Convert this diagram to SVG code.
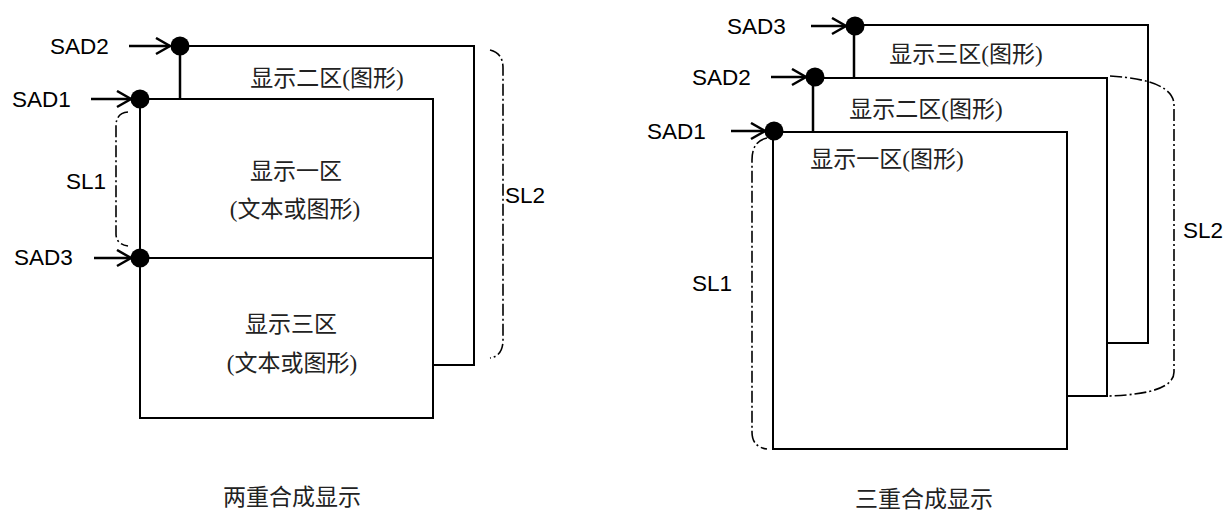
<svg xmlns="http://www.w3.org/2000/svg" width="1226" height="512" viewBox="0 0 1226 512">
<defs>
<style>
.ln{fill:none;stroke:#000;stroke-width:2}
.stub{fill:none;stroke:#000;stroke-width:2.5}
.arr{fill:none;stroke:#000;stroke-width:2.5}
.dd{fill:none;stroke:#000;stroke-width:1.6;stroke-dasharray:12 3 2 3}
.dot{fill:#000}
.lab{font-family:"Liberation Sans",Arial,sans-serif;font-size:22.5px;fill:#000}
.cn{font-family:"Liberation Serif","Noto Sans CJK SC",serif;font-size:23px;fill:#222;text-anchor:middle}
</style>
<marker id="ah" markerUnits="userSpaceOnUse" markerWidth="20" markerHeight="20" refX="15" refY="9" orient="auto">
<path d="M1,1 L15,9 L1,17" fill="none" stroke="#000" stroke-width="2.5"/>
</marker>
</defs>
<rect width="1226" height="512" fill="#fff"/>

<g id="left-diagram">
<g id="L-zone2">
<path class="ln" d="M180,46 H474 V365 H433"/>
<path class="stub" d="M180,46 V99"/>
<text class="cn" x="327" y="86">显示二区(图形)</text>
</g>
<g id="L-zone1">
<rect class="ln" x="140" y="99" width="293" height="319"/>
<text class="cn" x="296" y="179">显示一区</text>
<text class="cn" x="295" y="217">(文本或图形)</text>
</g>
<g id="L-zone3">
<path class="ln" d="M140,258 H433"/>
<text class="cn" x="291" y="332">显示三区</text>
<text class="cn" x="292" y="371">(文本或图形)</text>
</g>
<g id="L-dots">
<circle class="dot" cx="180" cy="46" r="9.5"/>
<circle class="dot" cx="140" cy="99" r="9.5"/>
<circle class="dot" cx="140" cy="258" r="9.5"/>
</g>
<g id="L-labels">
<text class="lab" x="50" y="54">SAD2</text>
<text class="lab" x="12" y="107">SAD1</text>
<text class="lab" x="14" y="265">SAD3</text>
<text class="lab" x="66" y="189">SL1</text>
<text class="lab" x="505" y="203">SL2</text>
</g>
</g>

<g id="right-diagram">
<g id="R-zone3">
<path class="ln" d="M855,25 H1148 V343 H1107"/>
<path class="stub" d="M854,25 V78"/>
<text class="cn" x="966" y="62">显示三区(图形)</text>
</g>
<g id="R-zone2">
<path class="ln" d="M815,78 H1107 V396 H1067"/>
<path class="stub" d="M813,78 V132"/>
<text class="cn" x="926" y="117">显示二区(图形)</text>
</g>
<g id="R-zone1">
<rect class="ln" x="773" y="132" width="294" height="317"/>
<text class="cn" x="887" y="167">显示一区(图形)</text>
</g>
<g id="R-dots">
<circle class="dot" cx="855" cy="26" r="9.5"/>
<circle class="dot" cx="815" cy="77" r="9.5"/>
<circle class="dot" cx="774" cy="131" r="9.5"/>
</g>
<g id="R-labels">
<text class="lab" x="727" y="34">SAD3</text>
<text class="lab" x="692" y="85">SAD2</text>
<text class="lab" x="647" y="139">SAD1</text>
<text class="lab" x="692" y="291">SL1</text>
<text class="lab" x="1183" y="238">SL2</text>
</g>
</g>

<g id="connectors">
<path class="arr" d="M129,46 H170" marker-end="url(#ah)"/>
<path class="arr" d="M91,99 H131" marker-end="url(#ah)"/>
<path class="arr" d="M94,258 H131" marker-end="url(#ah)"/>
<path class="arr" d="M811,26 H846" marker-end="url(#ah)"/>
<path class="arr" d="M771,77 H806" marker-end="url(#ah)"/>
<path class="arr" d="M731,131 H765" marker-end="url(#ah)"/>
<path class="dd" d="M128,112 Q116,113 116,126 V234 Q116,244 128,246"/>
<path class="dd" d="M490,50 Q503,53 503,68 V340 Q503,356 490,358"/>
<path class="dd" d="M767,138 Q752,141 752,160 V432 Q752,447 767,449"/>
<path class="dd" d="M1110,76 Q1174,80 1174,105 V372 Q1174,394 1108,396"/>
</g>

<g id="titles">
<text class="cn" x="292" y="505">两重合成显示</text>
<text class="cn" x="924" y="507">三重合成显示</text>
</g>
</svg>
